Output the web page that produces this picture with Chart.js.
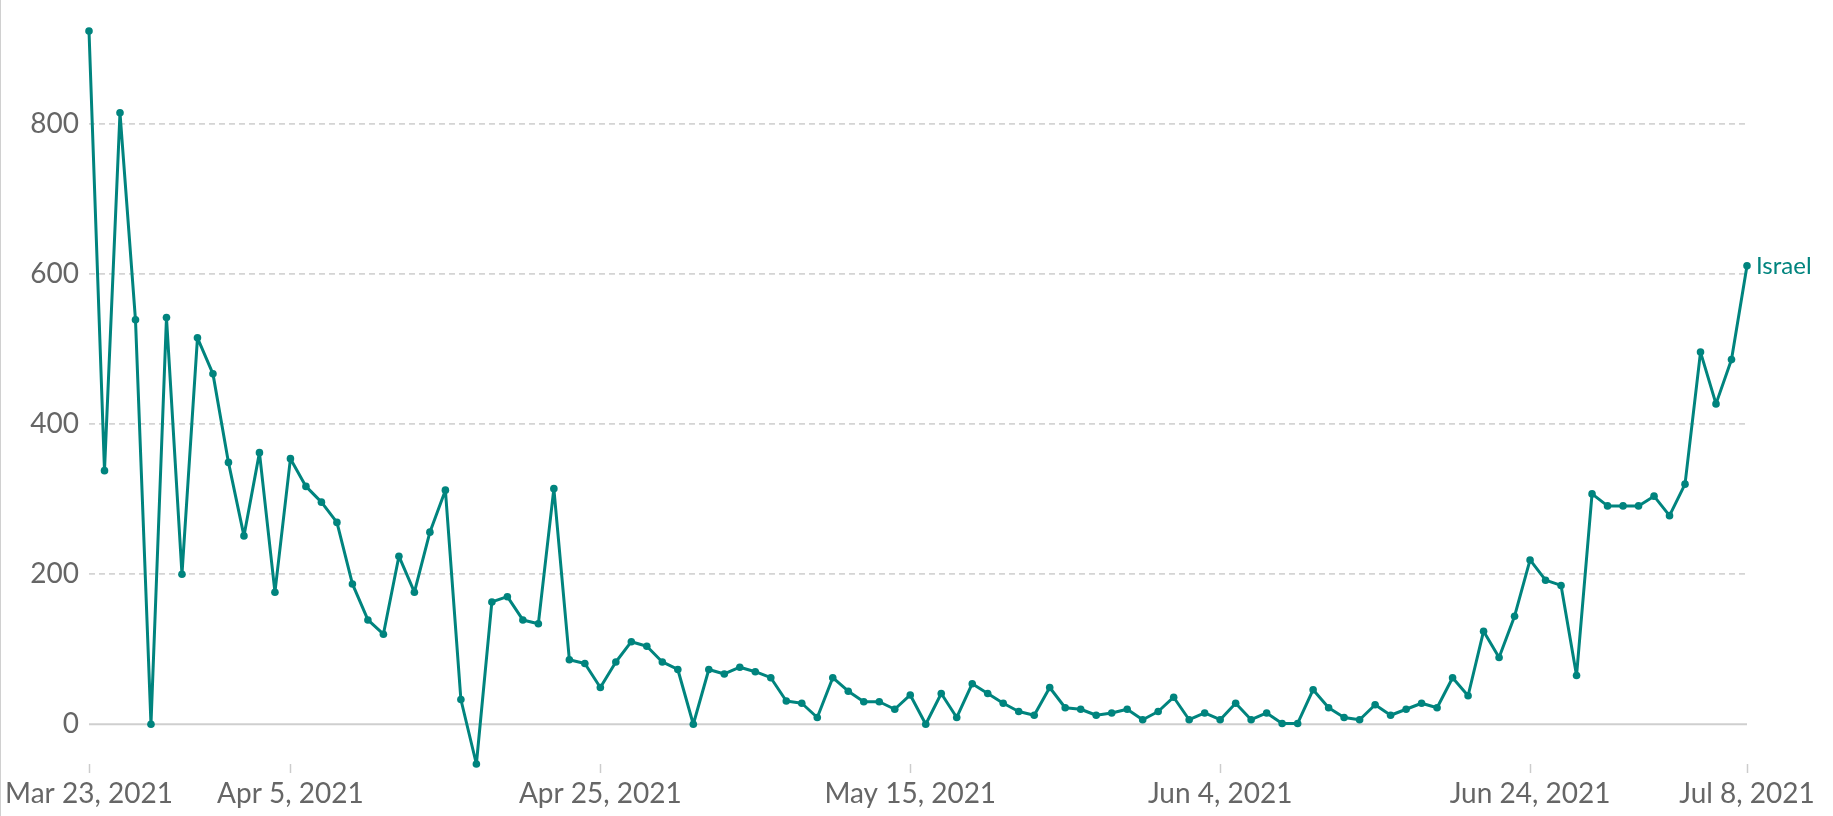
<!DOCTYPE html>
<html>
<head>
<meta charset="utf-8">
<script src="https://cdn.jsdelivr.net/npm/chart.js@4.4.1/dist/chart.umd.min.js"></script>
<style>
  html, body { margin: 0; padding: 0; background: #fff; }
  #wrap { position: relative; width: 1833px; height: 816px; }
  #edge { position: absolute; left: 0; top: 0; width: 1px; height: 816px; background: #d0d0d0; }
  canvas { display: block; }
</style>
</head>
<body>
<div id="wrap">
  <canvas id="c" width="1833" height="816"></canvas>
  <div id="edge"></div>
</div>
<script>
// ---- Data ----
const seriesName = "Israel";
const startDate = "2021-03-23";
const dayCount = 108;
const values = [
  924, 338, 815, 539, 0, 542, 200, 515, 467, 349,
  251, 362, 176, 354, 317, 296, 269, 187, 139, 120,
  224, 176, 256, 312, 33, -53, 163, 170, 139, 134,
  314, 86, 81, 49, 83, 110, 104, 83, 73, 0,
  73, 67, 76, 70, 62, 31, 28, 9, 62, 44,
  30, 30, 20, 39, 0, 41, 9, 54, 41, 28,
  17, 12, 49, 22, 20, 12, 15, 20, 6, 17,
  36, 6, 15, 6, 28, 6, 15, 1, 1, 46,
  22, 9, 6, 26, 12, 20, 28, 22, 62, 38,
  124, 89, 144, 219, 192, 185, 65, 307, 291, 291,
  291, 304, 278, 320, 496, 427, 486, 611
];
const xTickLabels = ["Mar 23, 2021", "Apr 5, 2021", "Apr 25, 2021", "May 15, 2021", "Jun 4, 2021", "Jun 24, 2021", "Jul 8, 2021"];
const yTickValues = [0, 200, 400, 600, 800];

// categories (one per day)
const categories = [];
{
  const d0 = new Date(startDate + "T00:00:00Z");
  for (let i = 0; i < dayCount; i++) {
    const d = new Date(d0.getTime() + i * 86400000);
    categories.push(d.toLocaleDateString("en-US", { month: "short", day: "numeric", year: "numeric", timeZone: "UTC" }));
  }
}

// ---- Style ----
const TEAL = "#00847E";
const TEXT = "#666666";
const FONT = "Lato, 'Open Sans', sans-serif";

const zeroLine = {
  id: "zeroLine",
  beforeDatasetsDraw(chart) {
    const y = chart.scales.y.getPixelForValue(0);
    const a = chart.chartArea;
    const ctx = chart.ctx;
    ctx.save();
    ctx.strokeStyle = "#cfcfcf";
    ctx.lineWidth = 2;
    ctx.beginPath();
    ctx.moveTo(a.left, y);
    ctx.lineTo(a.right, y);
    ctx.stroke();
    ctx.restore();
  }
};

const endLabel = {
  id: "endLabel",
  afterDatasetsDraw(chart) {
    const meta = chart.getDatasetMeta(0);
    const pt = meta.data[meta.data.length - 1];
    const ctx = chart.ctx;
    ctx.save();
    ctx.font = "24px " + FONT;
    ctx.fillStyle = TEAL;
    ctx.textAlign = "left";
    ctx.textBaseline = "middle";
    ctx.fillText(seriesName, pt.x + 9, pt.y);
    ctx.restore();
  }
};

new Chart(document.getElementById("c"), {
  type: "line",
  data: {
    labels: categories,
    datasets: [{
      label: seriesName,
      data: values,
      borderColor: TEAL,
      backgroundColor: TEAL,
      borderWidth: 3,
      borderJoinStyle: "round",
      borderCapStyle: "round",
      pointRadius: 3.8,
      pointBorderWidth: 0,
      pointBackgroundColor: TEAL,
      tension: 0,
      clip: false
    }]
  },
  options: {
    responsive: false,
    animation: false,
    layout: { padding: { top: 31, right: 86, bottom: 0, left: 0 } },
    plugins: { legend: { display: false }, tooltip: { enabled: false } },
    scales: {
      x: {
        offset: false,
        border: { display: false },
        grid: {
          display: true,
          drawOnChartArea: false,
          drawTicks: true,
          tickLength: 9,
          tickColor: "#cccccc",
          tickWidth: 1.5
        },
        afterBuildTicks(scale) {
          scale.ticks = xTickLabels.map(l => ({ value: categories.indexOf(l) }));
        },
        afterFit(scale) { scale.height = 52; },
        ticks: {
          autoSkip: false,
          maxRotation: 0,
          padding: 4,
          color: TEXT,
          font: { family: FONT, size: 28 }
        }
      },
      y: {
        min: Math.min(...values),
        max: Math.max(...values),
        border: { display: false, dash: [6, 4] },
        grid: {
          drawTicks: false,
          lineWidth: 1.7,
          color: (ctx) => (ctx.tick && ctx.tick.value === 0) ? "rgba(0,0,0,0)" : "#d4d4d4"
        },
        afterBuildTicks(scale) {
          scale.ticks = yTickValues.map(v => ({ value: v }));
        },
        afterFit(scale) { scale.width = 89; },
        ticks: {
          padding: 10,
          color: TEXT,
          font: { family: FONT, size: 28 }
        }
      }
    }
  },
  plugins: [zeroLine, endLabel]
});
</script>
</body>
</html>
